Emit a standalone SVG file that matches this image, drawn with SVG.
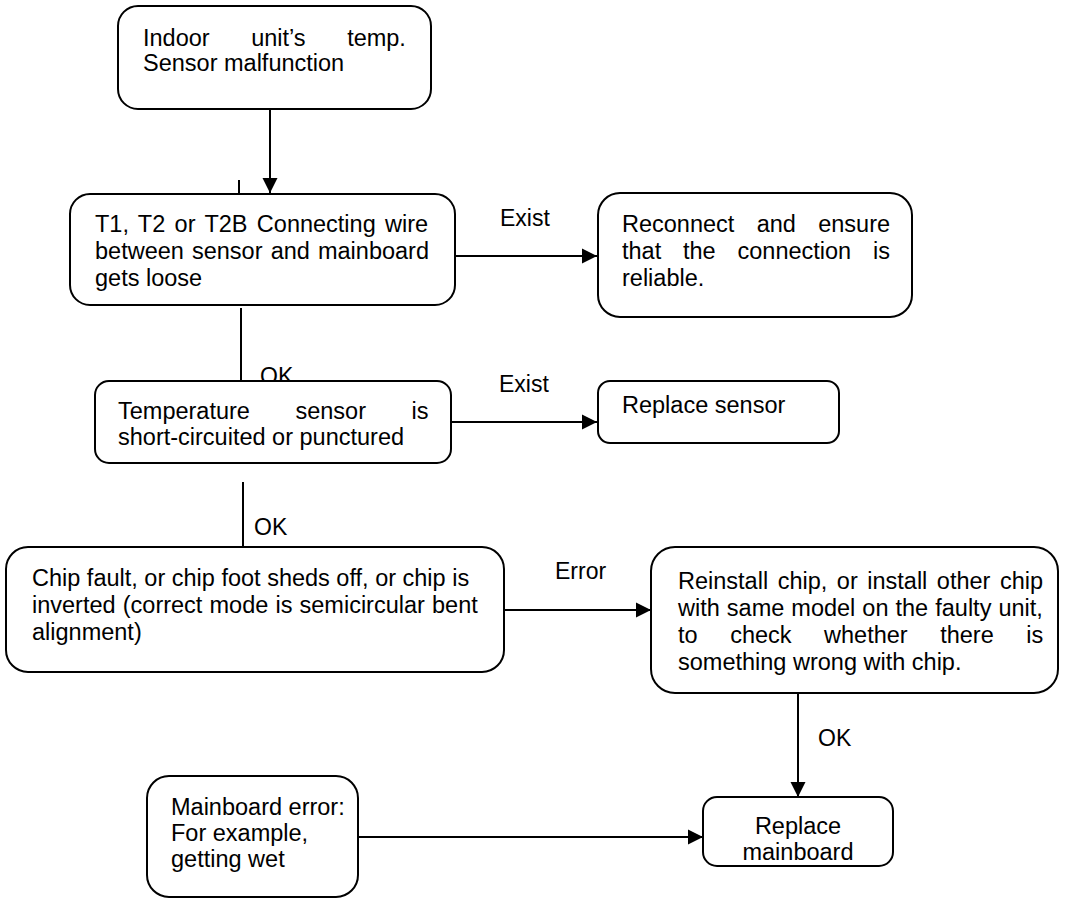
<svg xmlns="http://www.w3.org/2000/svg" width="1067" height="899" viewBox="0 0 1067 899">
<defs>
<style>
.box{fill:#fff;stroke:#000;stroke-width:2}
.t{font-family:"Liberation Sans",Arial,sans-serif;font-size:23.5px;fill:#000}
.lbl{font-family:"Liberation Sans",Arial,sans-serif;font-size:23px;fill:#000}
.ln{stroke:#000;stroke-width:2;fill:none}
.arr{marker-end:url(#ah)}
</style>
<marker id="ah" markerUnits="userSpaceOnUse" markerWidth="16" markerHeight="16" viewBox="0 0 16 16" refX="15" refY="8" orient="auto">
<path d="M0,0.5 L15,8 L0,15.5 Z" fill="#000"/>
</marker>
</defs>
<rect width="1067" height="899" fill="#fff"/>
<g id="connectors">
<line class="ln arr" x1="270" y1="109" x2="270" y2="193"/>
<line class="ln" x1="239" y1="180" x2="239" y2="193"/>
<line class="ln arr" x1="455" y1="256" x2="597" y2="256"/>
<text class="lbl" x="500" y="226">Exist</text>
<line class="ln" x1="241" y1="308" x2="241" y2="381"/>
<text class="lbl" x="260" y="384">OK</text>
<line class="ln arr" x1="451" y1="422" x2="597" y2="422"/>
<text class="lbl" x="499" y="392">Exist</text>
<line class="ln" x1="243" y1="482" x2="243" y2="547"/>
<text class="lbl" x="254" y="535">OK</text>
<line class="ln arr" x1="504" y1="610" x2="651" y2="610"/>
<text class="lbl" x="555" y="579">Error</text>
<line class="ln arr" x1="798" y1="693" x2="798" y2="797"/>
<text class="lbl" x="818" y="746">OK</text>
<line class="ln arr" x1="357" y1="837" x2="703" y2="837"/>
</g>
<g id="n1">
<rect class="box" x="118" y="6" width="313" height="103" rx="20"/>
<text class="t" x="143" y="45.5" word-spacing="35">Indoor unit’s temp.</text>
<text class="t" x="143" y="71">Sensor malfunction</text>
</g>
<g id="n2">
<rect class="box" x="70" y="194" width="385" height="111" rx="20"/>
<text class="t" x="95" y="232" word-spacing="2.8">T1, T2 or T2B Connecting wire</text>
<text class="t" x="95" y="259" word-spacing="1.6">between sensor and mainboard</text>
<text class="t" x="95" y="286">gets loose</text>
</g>
<g id="n3">
<rect class="box" x="598" y="193" width="314" height="124" rx="22"/>
<text class="t" x="622" y="232" word-spacing="15.8">Reconnect and ensure</text>
<text class="t" x="622" y="259" word-spacing="15.3">that the connection is</text>
<text class="t" x="622" y="286">reliable.</text>
</g>
<g id="n4">
<rect class="box" x="95" y="381" width="356" height="82" rx="14"/>
<text class="t" x="118" y="419" word-spacing="39">Temperature sensor is</text>
<text class="t" x="118" y="445">short-circuited or punctured</text>
</g>
<g id="n5">
<rect class="box" x="598" y="381" width="241" height="62" rx="12"/>
<text class="t" x="622" y="413">Replace sensor</text>
</g>
<g id="n6">
<rect class="box" x="6" y="547" width="498" height="125" rx="22"/>
<text class="t" x="32" y="586">Chip fault, or chip foot sheds off, or chip is</text>
<text class="t" x="32" y="613" word-spacing="0.6">inverted (correct mode is semicircular bent</text>
<text class="t" x="32" y="640">alignment)</text>
</g>
<g id="n7">
<rect class="box" x="651" y="547" width="407" height="146" rx="24"/>
<text class="t" x="678" y="589" word-spacing="3">Reinstall chip, or install other chip</text>
<text class="t" x="678" y="616" word-spacing="0.5">with same model on the faulty unit,</text>
<text class="t" x="678" y="643" word-spacing="26">to check whether there is</text>
<text class="t" x="678" y="670">something wrong with chip.</text>
</g>
<g id="n8">
<rect class="box" x="703" y="797" width="190" height="69" rx="14"/>
<text class="t" x="798" y="834" text-anchor="middle">Replace</text>
<text class="t" x="798" y="860" text-anchor="middle">mainboard</text>
</g>
<g id="n9">
<rect class="box" x="147" y="776" width="211" height="121" rx="22"/>
<text class="t" x="171" y="815">Mainboard error:</text>
<text class="t" x="171" y="841">For example,</text>
<text class="t" x="171" y="867">getting wet</text>
</g>
</svg>
